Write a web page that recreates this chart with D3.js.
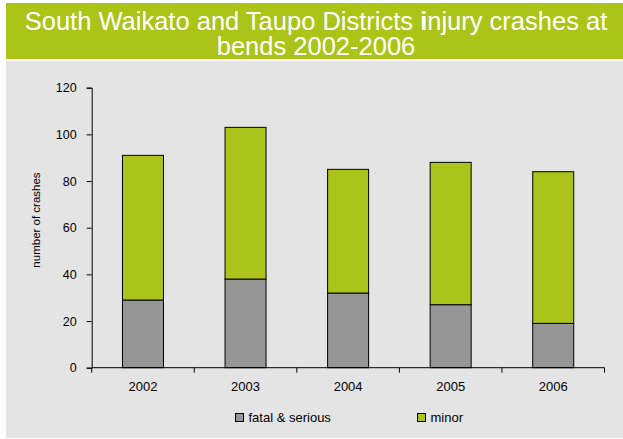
<!DOCTYPE html>
<html><head><meta charset="utf-8">
<script src="https://cdn.jsdelivr.net/npm/d3@7"></script>
<style>body{margin:0;background:#fff;}</style>
</head><body>
<svg id="c" width="623" height="439"></svg>
<script>
const years = ["2002","2003","2004","2005","2006"];
const fatalSerious = [29,38,32,27,19];
const minor = [62,65,53,61,65];
const yTicks = [0,20,40,60,80,100,120];
const seriesNames = ["fatal & serious","minor"];
const colors = ["#969696","#abc31a"];
const FONT = "Arial, 'Liberation Sans', sans-serif";

const svg = d3.select("#c").attr("font-family",FONT);
svg.append("rect").attr("x",6).attr("y",3).attr("width",617).attr("height",56).attr("fill","#acc418");
svg.append("rect").attr("x",6).attr("y",61).attr("width",617).attr("height",377).attr("fill","#e4e4e4");

const t1 = svg.append("text").attr("fill","#fff").attr("font-size",25.5).attr("text-anchor","middle")
  .attr("x",316).attr("y",30);
t1.append("tspan").text("South Waikato and Taupo Districts ");
t1.append("tspan").attr("font-weight","bold").text("i");
t1.append("tspan").text("njury crashes at");
svg.append("text").attr("fill","#fff").attr("font-size",25.5).attr("text-anchor","middle")
  .attr("x",316).attr("y",55).text("bends 2002-2006");

const m = {l:91.7, r:604.5, t:87.7, b:367.7};
const xb = d3.scaleBand().domain(years).range([m.l,m.r]);
const y = d3.scaleLinear().domain([0,120]).range([m.b,m.t]);

const data = years.map((yr,i)=>({year:yr, "fatal & serious":fatalSerious[i], "minor":minor[i]}));
const stack = d3.stack().keys(seriesNames)(data);

const g = svg.append("g");
stack.forEach((s,si)=>{
  g.selectAll(null).data(s).enter().append("rect")
    .attr("x",d=>xb(d.data.year)+xb.bandwidth()/2-20.5)
    .attr("width",41)
    .attr("y",d=>y(d[1]))
    .attr("height",d=>y(d[0])-y(d[1]))
    .attr("fill",colors[si]).attr("stroke","#000").attr("stroke-width",1);
});

const ya = svg.append("g").attr("transform",`translate(${m.l},0)`)
  .call(d3.axisLeft(y).tickValues(yTicks).tickSize(5).tickPadding(10));
ya.attr("font-family",FONT).attr("font-size",12.5);
ya.selectAll("text").style("font-size","12.5px").attr("fill","#000");
ya.selectAll("line,path").attr("stroke","#000");

const xa = svg.append("g").attr("transform",`translate(0,${m.b})`)
  .call(d3.axisBottom(xb).tickSize(0).tickPadding(14));
xa.attr("font-family",FONT).attr("font-size",13);
xa.selectAll("text").style("font-size","13px").attr("fill","#000");
xa.selectAll("path").attr("stroke","#000").attr("d",`M${m.l},0H${m.r}`);
xa.selectAll(".bt").data(years.map(d=>xb(d)).concat([m.r])).enter().append("line")
  .attr("x1",d=>d).attr("x2",d=>d).attr("y1",0).attr("y2",5).attr("stroke","#000");

svg.append("text").attr("transform","translate(40,220) rotate(-90)").attr("text-anchor","middle")
  .attr("font-size",11.5).attr("fill","#000").text("number of crashes");

const legX = [235.5, 417.5];
const leg = svg.append("g");
seriesNames.forEach((n,i)=>{
  leg.append("rect").attr("x",legX[i]).attr("y",413.5).attr("width",8).attr("height",8)
    .attr("fill",colors[i]).attr("stroke","#000").attr("stroke-width",1);
  leg.append("text").attr("x",legX[i]+13).attr("y",422).attr("font-size",13).attr("fill","#000").text(n);
});
</script>
</body></html>
